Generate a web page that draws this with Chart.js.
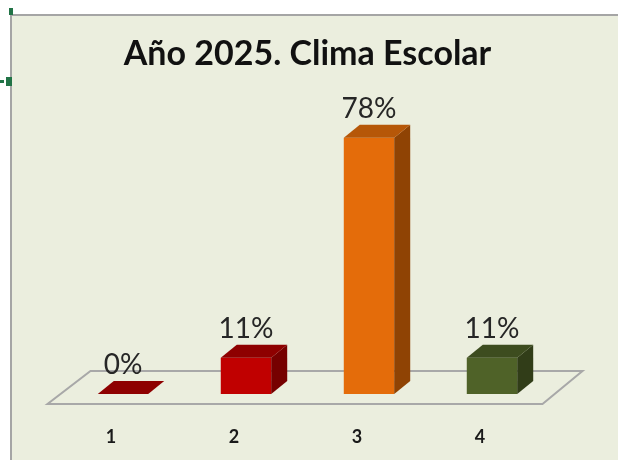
<!DOCTYPE html>
<html>
<head>
<meta charset="utf-8">
<script src="https://cdn.jsdelivr.net/npm/chart.js@4"></script>
<style>
html, body { margin:0; padding:0; background:#ffffff; overflow:hidden; }
canvas { display:block; }
</style>
</head>
<body>
<canvas id="chart1" width="618" height="460"></canvas>
<script>

/* DATA */

const categories = ["1", "2", "3", "4"];

const percentages = [0, 11, 78, 11];

/* COLORS (front / top / side) */

const frontColors = ["#C00000", "#C00000", "#E46C0A", "#4F6228"];
const topColors   = ["#8E0000", "#8E0000", "#B65708", "#3D4C1F"];
const sideColors  = ["#760000", "#760000", "#8F4304", "#313D18"];

const depthX = 16;
const depthY = -13;

/* BACKGROUND + FRAME */

const frame = {
    id: "frame",
    beforeDraw(chart){
        const ctx = chart.ctx;
        ctx.save();
        ctx.fillStyle = "#ffffff";
        ctx.fillRect(0, 0, chart.width, chart.height);
        ctx.fillStyle = "#EBEEDE";
        ctx.fillRect(11, 15, chart.width - 11, chart.height - 15);
        ctx.strokeStyle = "#A5A5A5";
        ctx.lineWidth = 2;
        ctx.beginPath();
        ctx.moveTo(11, chart.height);
        ctx.lineTo(11, 15);
        ctx.lineTo(chart.width, 15);
        ctx.stroke();
        // selection handles
        ctx.fillStyle = "#217346";
        ctx.fillRect(9, 8, 4, 7);
        ctx.fillRect(6, 77, 6, 9);
        ctx.fillRect(0, 80, 4, 3);
        ctx.restore();
    }
};

/* 3D FLOOR, FACES AND LABELS */

const bar3d = {
    id: "bar3d",
    beforeDatasetsDraw(chart){
        const ctx = chart.ctx;
        const xs = chart.scales.x;
        const base = chart.scales.y.getPixelForValue(0);
        ctx.save();
        ctx.strokeStyle = "#A8A8A8";
        ctx.lineWidth = 2;
        ctx.beginPath();
        ctx.moveTo(xs.left - 14, base + 10);
        ctx.lineTo(xs.right - 11, base + 10);
        ctx.lineTo(xs.right + 29, base - 23);
        ctx.lineTo(xs.left + 29, base - 23);
        ctx.closePath();
        ctx.stroke();
        ctx.restore();
    },
    afterDatasetsDraw(chart){
        const ctx = chart.ctx;
        const meta = chart.getDatasetMeta(0);
        ctx.save();
        meta.data.forEach((bar, i) => {
            const left = bar.x - bar.width / 2;
            const right = bar.x + bar.width / 2;
            const top = bar.y;
            const bottom = bar.base;

            // side face
            if(bottom - top > 0){
                ctx.fillStyle = sideColors[i];
                ctx.beginPath();
                ctx.moveTo(right, top);
                ctx.lineTo(right + depthX, top + depthY);
                ctx.lineTo(right + depthX, bottom + depthY);
                ctx.lineTo(right, bottom);
                ctx.closePath();
                ctx.fill();
            }

            // top face
            ctx.fillStyle = topColors[i];
            ctx.beginPath();
            ctx.moveTo(left, top);
            ctx.lineTo(left + depthX, top + depthY);
            ctx.lineTo(right + depthX, top + depthY);
            ctx.lineTo(right, top);
            ctx.closePath();
            ctx.fill();

            // value label
            ctx.fillStyle = "#262626";
            ctx.font = "28px Lato, 'Open Sans', sans-serif";
            ctx.textAlign = "center";
            ctx.textBaseline = "alphabetic";
            ctx.fillText(percentages[i] + "%", bar.x, top + depthY - 7);
        });
        ctx.restore();
    }
};

/* CHART */

new Chart(document.getElementById("chart1"), {
    type: "bar",
    data: {
        labels: categories,
        datasets: [{
            label: "Clima Escolar",
            data: percentages,
            backgroundColor: frontColors,
            borderWidth: 0,
            barPercentage: 0.41,
            categoryPercentage: 1
        }]
    },
    options: {
        responsive: false,
        animation: false,
        devicePixelRatio: 1,
        layout: {
            padding: { left: 61.5, right: 64.5, top: 0, bottom: 0 }
        },
        plugins: {
            legend: { display: false },
            tooltip: { enabled: false },
            title: {
                display: true,
                text: "Año 2025. Clima Escolar",
                color: "#111111",
                font: { family: "Lato, 'Open Sans', sans-serif", size: 34, weight: "bold", lineHeight: 1.2 },
                padding: { top: 34, bottom: 40 }
            }
        },
        scales: {
            x: {
                grid: { display: false, drawTicks: false },
                border: { display: false },
                ticks: {
                    color: "#1a1a1a",
                    font: { family: "Lato, 'Open Sans', sans-serif", size: 18, weight: "bold", lineHeight: 1.2 },
                    padding: 32,
                    labelOffset: -12
                },
                afterFit(scale){
                    scale.height = 66;
                }
            },
            y: {
                display: false,
                min: 0,
                max: 85
            }
        }
    },
    plugins: [frame, bar3d]
});

</script>
</body>
</html>
